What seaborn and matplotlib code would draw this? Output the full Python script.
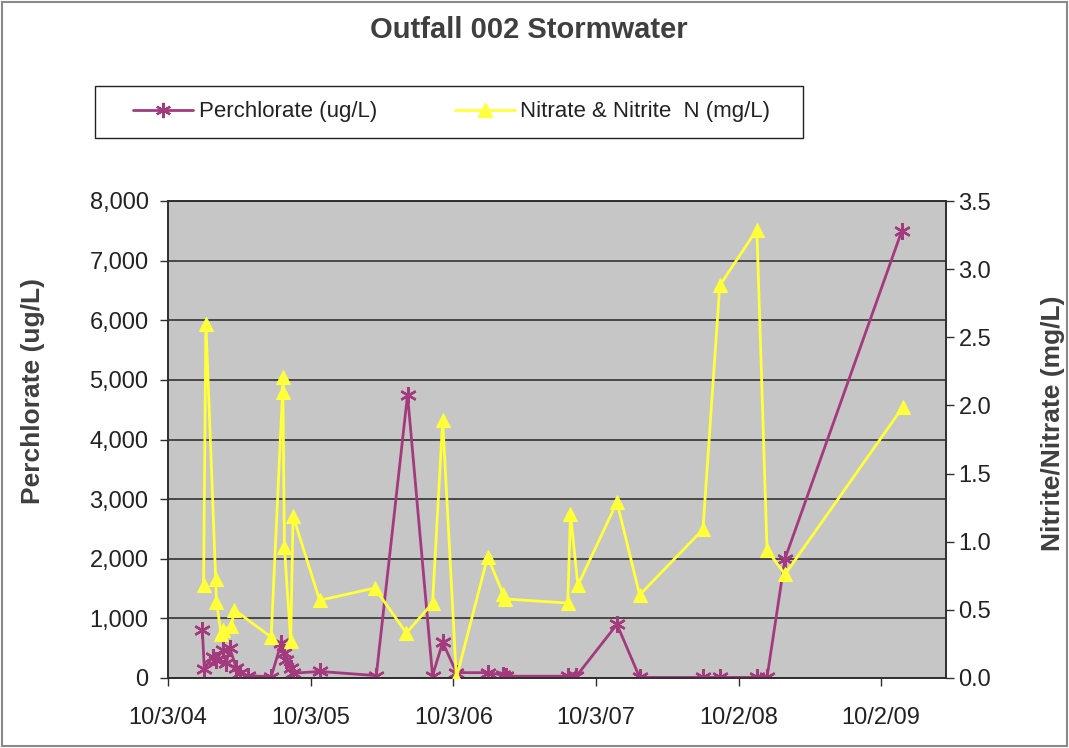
import numpy as np
import pandas as pd
import matplotlib as mpl
mpl.use('Agg')
import matplotlib.pyplot as plt
import matplotlib.ticker as mticker
from matplotlib.lines import Line2D
from matplotlib.patches import Rectangle
import seaborn as sns

# DATA
perc_dates = [
    '2004-12-30', '2005-01-04', '2005-01-25', '2005-02-03', '2005-02-20',
    '2005-03-01', '2005-03-10', '2005-03-27', '2005-04-04', '2005-04-25',
    '2005-06-24', '2005-07-20', '2005-07-27', '2005-08-02', '2005-08-15',
    '2005-08-20', '2005-10-26', '2006-03-20', '2006-06-08', '2006-08-11',
    '2006-09-06', '2006-10-11', '2006-12-30', '2007-02-07', '2007-02-16',
    '2007-07-23', '2007-08-14', '2007-11-26', '2008-01-23', '2008-07-03',
    '2008-08-15', '2008-11-18', '2008-12-14', '2009-01-29', '2009-11-24',
]
perchlorate = [
    800, 150, 360, 300, 470,
    250, 500, 170, 80, 40,
    20, 590, 420, 300, 170,
    80, 110, 40, 4750, 40,
    600, 90, 90, 50, 30,
    30, 30, 900, 10, 10,
    10, 10, 10, 2000, 7500,
]

nitr_dates = [
    '2005-01-02', '2005-01-08', '2005-02-02', '2005-02-04', '2005-02-16',
    '2005-02-20', '2005-03-14', '2005-03-22', '2005-06-24', '2005-07-25',
    '2005-07-24', '2005-07-28', '2005-08-13', '2005-08-19', '2005-10-26',
    '2006-03-16', '2006-06-05', '2006-08-11', '2006-09-06', '2006-10-11',
    '2006-12-30', '2007-02-07', '2007-02-12', '2007-07-23', '2007-07-30',
    '2007-08-18', '2007-11-26', '2008-01-23', '2008-07-03', '2008-08-15',
    '2008-11-18', '2008-12-14', '2009-01-29', '2009-11-27',
]
nitrate = [
    0.68, 2.60, 0.73, 0.56, 0.32,
    0.35, 0.38, 0.50, 0.30, 2.21,
    2.10, 0.96, 0.27, 1.19, 0.57,
    0.66, 0.33, 0.55, 1.89, 0.00,
    0.89, 0.62, 0.58, 0.55, 1.20,
    0.68, 1.29, 0.61, 1.09, 2.88,
    3.29, 0.94, 0.76, 1.99,
]

x_tick_labels = ['10/3/04', '10/3/05', '10/3/06', '10/3/07', '10/2/08', '10/2/09']

perc_df = pd.DataFrame({'date': pd.to_datetime(perc_dates), 'value': perchlorate})
nitr_df = pd.DataFrame({'date': pd.to_datetime(nitr_dates), 'value': nitrate})

# STYLE
sns.set_style('white')
plt.rcParams['font.family'] = ['Liberation Sans', 'DejaVu Sans']

PLUM = '#a43a7e'
YELLOW = '#ffff3a'
BG = '#c6c6c6'
TXT = '#3f3f3f'
W, H = 1069, 748

fig = plt.figure(figsize=(W / 100, H / 100), dpi=100)
fig.patch.set_facecolor('white')
fig.add_artist(Rectangle((0.002, 0.003), 0.996, 0.994, transform=fig.transFigure,
                         fill=False, edgecolor='#8a8a8a', linewidth=1.5))

ax = fig.add_axes([168 / W, 1 - 678 / H, (946 - 168) / W, (678 - 201) / H])
ax.set_facecolor(BG)
ax2 = ax.twinx()

sns.lineplot(data=perc_df, x='date', y='value', ax=ax, color=PLUM,
             linewidth=2.0, marker=(6, 2, 0), markersize=12,
             markeredgecolor=PLUM, markeredgewidth=1.7,
             estimator=None, sort=False, zorder=3)
sns.lineplot(data=nitr_df, x='date', y='value', ax=ax2, color=YELLOW,
             linewidth=2.0, marker='^', markersize=10,
             markeredgecolor=YELLOW, markerfacecolor=YELLOW,
             estimator=None, sort=False, zorder=3)

# x axis: 365-day steps like the Excel date axis
start = pd.Timestamp('2004-10-03')
xticks = [start + pd.Timedelta(days=365 * i) for i in range(len(x_tick_labels))]
ax.set_xlim(start, pd.Timestamp('2010-03-17'))
ax.set_xticks(xticks)
ax.set_xticklabels(x_tick_labels)

ax.set_ylim(0, 8000)
ax.set_yticks(np.arange(0, 8001, 1000))
ax.yaxis.set_major_formatter(mticker.FuncFormatter(lambda v, p: f'{int(v):,}'))
ax.grid(axis='y', color='#333333', linewidth=1.2)
ax.grid(axis='x', visible=False)
ax.set_axisbelow(True)

ax2.set_ylim(0, 3.5)
ax2.set_yticks(np.arange(0, 3.51, 0.5))
ax2.yaxis.set_major_formatter(mticker.FormatStrFormatter('%.1f'))
ax2.grid(False)

for a in (ax, ax2):
    for s in a.spines.values():
        s.set_color('#2e2e2e')
        s.set_linewidth(1.2)

ax.tick_params(axis='x', direction='out', length=6, width=1, color='#2e2e2e',
               labelsize=17, labelcolor='#222222', pad=15, bottom=True)
ax.tick_params(axis='y', direction='out', length=6, width=1, color='#2e2e2e',
               labelsize=17, labelcolor='#222222', pad=8, left=True)
ax2.tick_params(axis='y', direction='out', length=6, width=1, color='#2e2e2e',
                labelsize=17, labelcolor='#222222', pad=3, right=True)

ax.set_xlabel('')
ax.set_ylabel('')
ax2.set_ylabel('')

fig.text(33 / W, 1 - 391 / H, 'Perchlorate (ug/L)', rotation=90, ha='center', va='center',
         fontsize=19, fontweight='bold', color=TXT)
fig.text(1053 / W, 1 - 423 / H, 'Nitrite/Nitrate (mg/L)', rotation=90, ha='center', va='center',
         fontsize=19, fontweight='bold', color=TXT)

fig.text(529 / W, 1 - 30 / H, 'Outfall 002 Stormwater', ha='center', va='center',
         fontsize=21, fontweight='bold', color=TXT)

# legend: drawn box plus frameless legend inside it
fig.add_artist(Rectangle((95 / W, 1 - 138 / H), (803 - 95) / W, 52 / H,
                         transform=fig.transFigure, fill=False,
                         edgecolor='#222222', linewidth=1.0))
handles = [
    Line2D([], [], color=PLUM, linewidth=2.0, marker=(6, 2, 0), markersize=11,
           markeredgecolor=PLUM, markeredgewidth=1.6),
    Line2D([], [], color=YELLOW, linewidth=2.0, marker='^', markersize=10,
           markeredgecolor=YELLOW, markerfacecolor=YELLOW),
]
leg = fig.legend(handles, ['Perchlorate (ug/L)', 'Nitrate & Nitrite  N (mg/L)'],
                 loc='center left', ncol=2, bbox_to_anchor=(133 / W, 1 - 112 / H),
                 frameon=False, fontsize=16, borderpad=0, borderaxespad=0,
                 handlelength=2.7, handletextpad=0.25, columnspacing=3.5)
for t in leg.get_texts():
    t.set_color('#222222')

fig.savefig('out.png', dpi=100)
